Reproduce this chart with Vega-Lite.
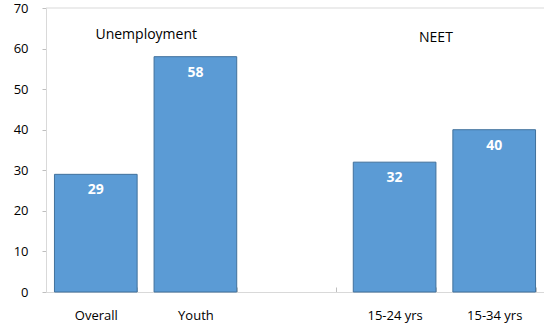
{
  "$schema": "https://vega.github.io/schema/vega-lite/v6.json",
  "autosize": {"type": "none"},
  "width": 498,
  "height": 284,
  "padding": {"left": 46, "top": 8, "right": 0, "bottom": 36},
  "background": "white",
  "config": {
    "view": {"stroke": null},
    "font": "Open Sans",
    "axis": {"labelFont": "Open Sans", "labelFontSize": 13, "labelColor": "#000000", "domainColor": "#d9d9d9", "tickColor": "#bfbfbf", "title": null}
  },
  "datasets": {
    "bars": [
      {"cat": "Overall", "value": 29},
      {"cat": "Youth", "value": 58},
      {"cat": " ", "value": null},
      {"cat": "15-24 yrs", "value": 32},
      {"cat": "15-34 yrs", "value": 40}
    ]
  },
  "layer": [
    {
      "data": {"values": [{"top": 70}]},
      "mark": {"type": "rule", "color": "#d9d9d9", "strokeWidth": 1},
      "encoding": {"y": {"field": "top", "type": "quantitative", "scale": {"domain": [0, 70]}}}
    },
    {
      "data": {"name": "bars"},
      "mark": {"type": "bar", "fill": "#5B9BD5", "stroke": "#41719C", "strokeWidth": 1},
      "encoding": {
        "x": {"field": "cat", "type": "nominal", "sort": null,
          "scale": {"domain": ["Overall", "Youth", " ", "15-24 yrs", "15-34 yrs"], "paddingInner": 0.17, "paddingOuter": 0.085},
          "axis": {"labelAngle": 0, "tickBand": "extent", "tickSize": -5, "labelPadding": 22, "domainColor": "#d9d9d9"}},
        "y": {"field": "value", "type": "quantitative",
          "scale": {"domain": [0, 70], "nice": false},
          "axis": {"values": [0, 10, 20, 30, 40, 50, 60, 70], "tickSize": 4, "labelPadding": 14, "grid": false}}
      }
    },
    {
      "data": {"name": "bars"},
      "mark": {"type": "text", "color": "white", "fontWeight": "bold", "fontSize": 14, "baseline": "middle", "dy": 16},
      "encoding": {
        "x": {"field": "cat", "type": "nominal", "sort": null},
        "y": {"field": "value", "type": "quantitative"},
        "text": {"field": "value", "type": "quantitative"}
      }
    },
    {
      "data": {"values": [{"cat": "Overall", "y": 63.3, "text": "Unemployment"}]},
      "mark": {"type": "text", "color": "#000000", "fontSize": 14, "baseline": "middle", "align": "center"},
      "encoding": {
        "x": {"field": "cat", "type": "nominal", "sort": null, "bandPosition": 1.11},
        "y": {"field": "y", "type": "quantitative"},
        "text": {"field": "text"}
      }
    },
    {
      "data": {"values": [{"cat": "15-24 yrs", "y": 62.6, "text": "NEET"}]},
      "mark": {"type": "text", "color": "#000000", "fontSize": 14, "baseline": "middle", "align": "center"},
      "encoding": {
        "x": {"field": "cat", "type": "nominal", "sort": null, "bandPosition": 1.0},
        "y": {"field": "y", "type": "quantitative"},
        "text": {"field": "text"}
      }
    }
  ]
}
